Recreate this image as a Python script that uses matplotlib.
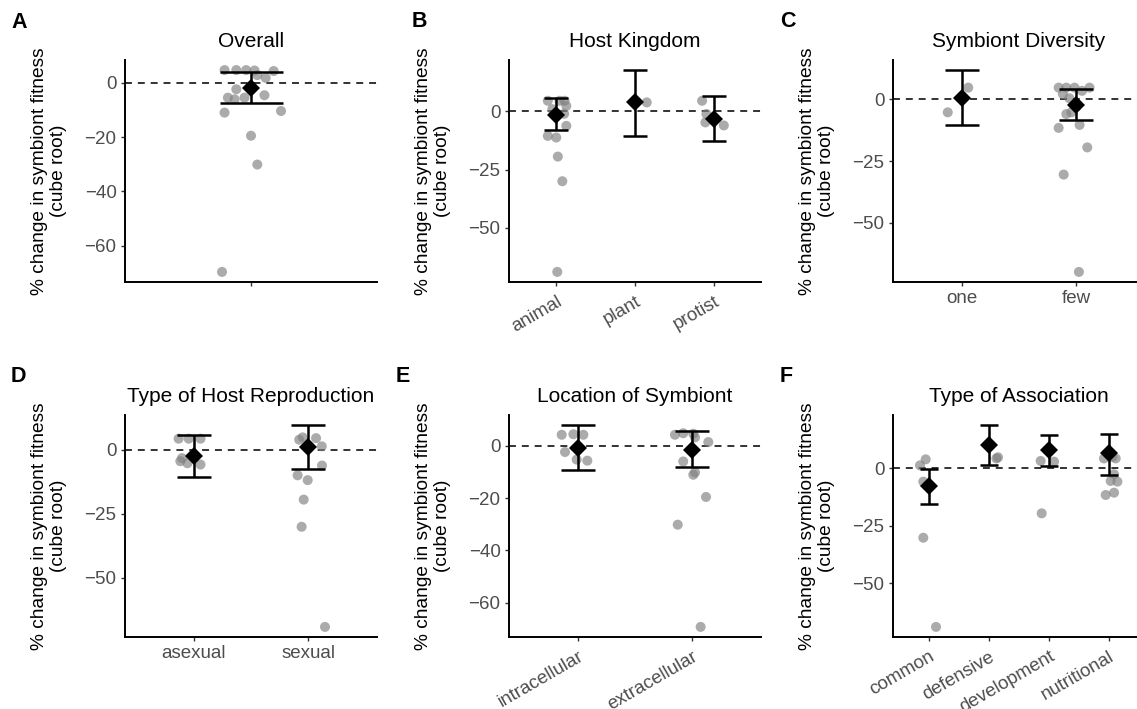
import matplotlib
matplotlib.use("Agg")
import matplotlib.pyplot as plt
import numpy as np

# ---- A: Overall ----
A_CATS = [""]
A_GROUP = [0] * 17
A_JITTER = [-0.126, -0.07, -0.023, 0.017, 0.108, 0.07, 0.03, -0.07, -0.11,
            -0.078, -0.031, 0.064, -0.126, 0.143, 0.0, 0.03, -0.138]
A_VALUE = [4.65, 4.65, 4.65, 4.5, 4.3, 1.8, 2.8, -2.4, -5.5,
           -6.1, -5.5, -4.6, -11.0, -10.4, -19.5, -30.1, -69.6]
A_EST = [-1.8]
A_LO = [-7.3]
A_HI = [3.8]

# ---- B: Host Kingdom ----
B_CATS = ["animal", "plant", "protist"]
B_GROUP = [0, 0, 0, 0, 0, 0, 0, 0, 0, 0, 0, 0, 1, 2, 2, 2, 2]
B_JITTER = [-0.107, 0.042, 0.106, 0.128, -0.05, 0.1, 0.128, -0.107, 0.0,
            0.02, 0.077, 0.013, 0.149, -0.148, -0.093, -0.106, 0.128]
B_VALUE = [4.6, 4.6, 4.6, 2.4, 1.0, -1.0, -6.2, -10.5, -11.2,
           -19.4, -30.0, -69.0, 3.9, 4.6, -1.1, -4.7, -6.0]
B_EST = [-1.6, 3.9, -3.3]
B_LO = [-8.0, -10.5, -12.6]
B_HI = [5.6, 17.8, 6.8]

# ---- C: Symbiont Diversity ----
C_CATS = ["one", "few"]
C_GROUP = [0, 0] + [1] * 15
C_JITTER = [0.057, -0.122, -0.154, -0.087, -0.015, 0.116, 0.05, -0.117, -0.06,
            -0.043, -0.087, -0.154, 0.029, 0.096, -0.11, 0.023, 0.0]
C_VALUE = [4.8, -5.2, 4.8, 4.8, 4.8, 4.8, 3.5, 2.2, 0.5,
           -5.2, -5.9, -11.5, -10.3, -19.4, -30.4, -69.8, -3.0]
C_EST = [0.5, -2.3]
C_LO = [-10.3, -8.2]
C_HI = [11.9, 4.4]

# ---- D: Type of Host Reproduction ----
D_CATS = ["asexual", "sexual"]
D_GROUP = [0] * 7 + [1] * 10
D_JITTER = [-0.132, -0.044, 0.059, -0.102, -0.117, 0.059, -0.055,
            -0.079, -0.049, 0.068, 0.118, 0.12, -0.093, -0.005, -0.04, -0.058, 0.146]
D_VALUE = [4.3, 4.3, 4.3, -3.3, -4.5, -5.8, -5.3,
           3.9, 4.8, 4.5, 1.3, -6.2, -10.0, -11.9, -19.5, -30.1, -69.2]
D_EST = [-2.4, 0.9]
D_LO = [-10.5, -7.6]
D_HI = [5.6, 9.6]

# ---- E: Location of Symbiont ----
E_CATS = ["intracellular", "extracellular"]
E_GROUP = [0] * 6 + [1] * 11
E_JITTER = [-0.14, -0.038, 0.049, -0.111, -0.009, 0.084,
            -0.151, -0.079, 0.009, 0.024, 0.14, -0.079, 0.009, 0.024, 0.12, -0.127, 0.073]
E_VALUE = [4.2, 4.4, 4.2, -2.4, -5.3, -5.7,
           4.2, 4.8, 4.6, 3.2, 1.4, -6.0, -11.1, -10.2, -19.6, -30.2, -69.3]
E_EST = [-1.0, -1.5]
E_LO = [-9.3, -8.2]
E_HI = [7.9, 5.5]

# ---- F: Type of Association ----
F_CATS = ["common", "defensive", "development", "nutritional"]
F_GROUP = [0] * 5 + [1] * 2 + [2] * 3 + [3] * 8
F_JITTER = [-0.055, -0.15, -0.095, -0.095, 0.117,
            0.124, 0.15,
            -0.139, 0.084, -0.122,
            -0.084, 0.057, 0.112, 0.084, 0.028, 0.14, -0.055, 0.084]
F_VALUE = [3.9, 1.3, -5.8, -30.2, -69.0,
           4.3, 4.8,
           3.2, 2.9, -19.6,
           4.3, 5.0, 4.3, -2.6, -5.5, -5.8, -11.6, -10.6]
F_EST = [-7.9, 10.0, 7.8, 6.5]
F_LO = [-15.5, 1.5, 1.0, -2.9]
F_HI = [-0.4, 18.8, 14.5, 15.0]

PANELS = [
    dict(letter="A", title="Overall", cats=A_CATS, group=A_GROUP, jitter=A_JITTER,
         value=A_VALUE, est=A_EST, lo=A_LO, hi=A_HI, yticks=[0, -20, -40, -60],
         rot=False, box=(125, 60), letter_xy=(11, 28)),
    dict(letter="B", title="Host Kingdom", cats=B_CATS, group=B_GROUP, jitter=B_JITTER,
         value=B_VALUE, est=B_EST, lo=B_LO, hi=B_HI, yticks=[0, -25, -50],
         rot=True, box=(509, 60), letter_xy=(412, 27)),
    dict(letter="C", title="Symbiont Diversity", cats=C_CATS, group=C_GROUP, jitter=C_JITTER,
         value=C_VALUE, est=C_EST, lo=C_LO, hi=C_HI, yticks=[0, -25, -50],
         rot=False, box=(893, 60), letter_xy=(780, 27)),
    dict(letter="D", title="Type of Host Reproduction", cats=D_CATS, group=D_GROUP,
         jitter=D_JITTER, value=D_VALUE, est=D_EST, lo=D_LO, hi=D_HI,
         yticks=[0, -25, -50], rot=False, box=(125, 415), letter_xy=(11, 382)),
    dict(letter="E", title="Location of Symbiont", cats=E_CATS, group=E_GROUP,
         jitter=E_JITTER, value=E_VALUE, est=E_EST, lo=E_LO, hi=E_HI,
         yticks=[0, -20, -40, -60], rot=True, box=(509, 415), letter_xy=(396, 382)),
    dict(letter="F", title="Type of Association", cats=F_CATS, group=F_GROUP,
         jitter=F_JITTER, value=F_VALUE, est=F_EST, lo=F_LO, hi=F_HI,
         yticks=[0, -25, -50], rot=True, box=(893, 415), letter_xy=(780, 382)),
]

W, H = 1137, 709
AX_W, AX_H = 252, 222

plt.rcParams.update({
    "font.family": ["Liberation Sans", "DejaVu Sans"],
    "axes.linewidth": 1.4,
})

fig = plt.figure(figsize=(W / 100, H / 100), dpi=100)
fig.patch.set_facecolor("white")


def draw_panel(p):
    left, top = p["box"]
    ax = fig.add_axes([left / W, 1 - (top + AX_H) / H, AX_W / W, AX_H / H])
    n = len(p["cats"])
    xs = np.arange(n)

    ax.axhline(0, color="#1a1a1a", lw=1.25, linestyle=(0, (4.0, 3.4)), zorder=1)

    px = np.asarray(p["group"]) + np.asarray(p["jitter"])
    ax.scatter(px, p["value"], s=52, color="#7f7f7f", alpha=0.65,
               edgecolors="none", zorder=2)

    ax.vlines(xs, p["lo"], p["hi"], color="black", lw=1.8, zorder=3)
    ax.hlines(p["lo"], xs - 0.15, xs + 0.15, color="black", lw=1.8, zorder=3)
    ax.hlines(p["hi"], xs - 0.15, xs + 0.15, color="black", lw=1.8, zorder=3)
    ax.plot(xs, p["est"], "D", color="black", ms=9.2, mew=0, zorder=4)

    # ggplot-style 5% expansion
    lo = min(min(p["value"]), min(p["lo"]))
    hi = max(max(p["value"]), max(p["hi"]))
    pad = 0.05 * (hi - lo)
    ax.set_ylim(lo - pad, hi + pad)
    ax.set_xlim(-0.6, n - 0.4)

    ax.set_yticks(p["yticks"])
    ax.set_xticks(xs)
    if p["rot"]:
        ax.set_xticklabels(p["cats"], rotation=30, ha="right", va="top",
                           rotation_mode="anchor")
        ax.tick_params(axis="x", pad=5.5)
    else:
        ax.set_xticklabels(p["cats"])

    ax.tick_params(length=2.6, width=1.0, color="#333333",
                   labelcolor="#4d4d4d", labelsize=13.5)
    ax.spines["top"].set_visible(False)
    ax.spines["right"].set_visible(False)

    ax.set_title(p["title"], fontsize=15, pad=9.7)
    ax.set_ylabel("% change in symbiont fitness\n(cube root)", fontsize=13.75,
                  linespacing=1.15)
    ax.yaxis.set_label_coords(-0.23, 0.5)

    lx, ly = p["letter_xy"]
    fig.text(lx / W, 1 - ly / H, p["letter"], fontsize=15.5, fontweight="bold",
             ha="left", va="baseline")


for panel in PANELS:
    draw_panel(panel)

fig.savefig("out.png", dpi=100)
plt.close(fig)
